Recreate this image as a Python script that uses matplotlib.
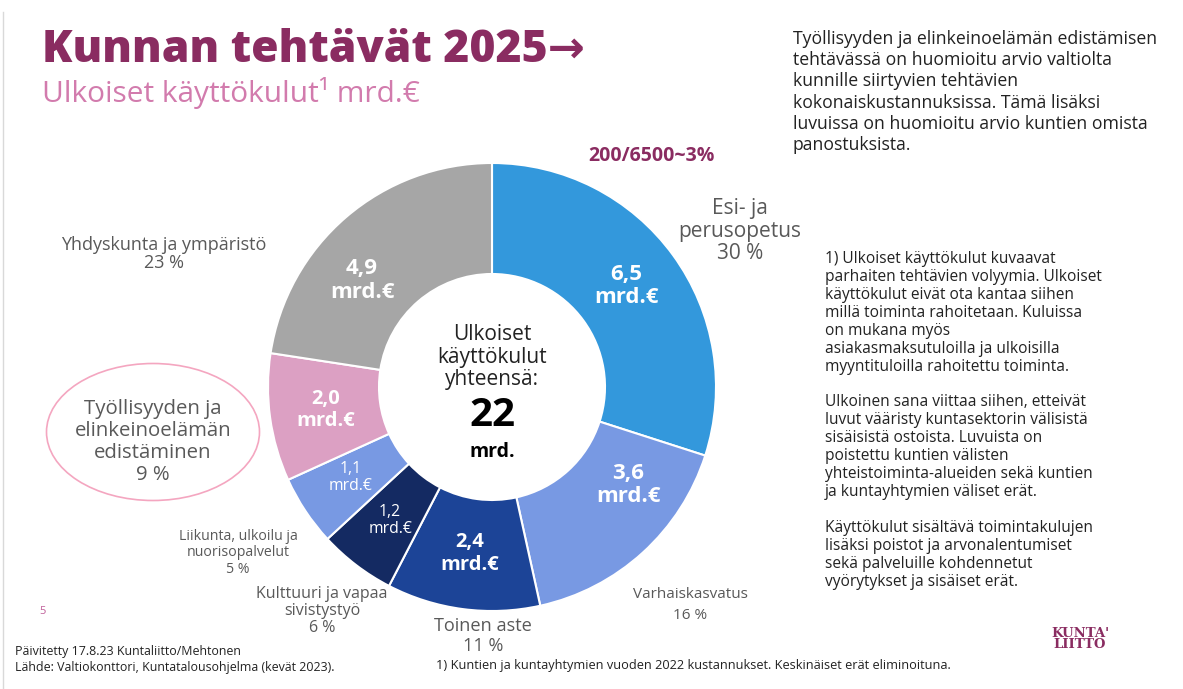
import numpy as np
import matplotlib
matplotlib.use("Agg")
from matplotlib import pyplot as plt
from matplotlib.patches import Ellipse

# data
tasks = ["Esi- ja\nperusopetus", "Varhaiskasvatus", "Toinen aste",
         "Kulttuuri ja vapaa\nsivistystyö", "Liikunta, ulkoilu ja\nnuorisopalvelut",
         "Työllisyyden ja\nelinkeinoelämän\nedistäminen", "Yhdyskunta ja ympäristö"]
values = [6.5, 3.6, 2.4, 1.2, 1.1, 2.0, 4.9]
shares = [30, 16, 11, 6, 5, 9, 23]
value_labels = ["6,5", "3,6", "2,4", "1,2", "1,1", "2,0", "4,9"]
total_label = "22"

colors = ["#3398dc", "#7899e3", "#1c4497", "#142a62", "#7899e3", "#dca0c3", "#a6a6a6"]

W, H = 1183, 689
plum = "#8a2c61"
grey_txt = "#595959"
plt.rcParams['font.family'] = ['Open Sans', 'DejaVu Sans']

fig = plt.figure(figsize=(W / 100, H / 100), dpi=100)
ax = fig.add_axes([0, 0, 1, 1])

def py(y):
    # pixel row from top -> data y
    return H - y

cx, cy, R = 492, py(387), 224
wedges, _ = ax.pie(values, colors=colors, startangle=90, counterclock=False,
                   center=(cx, cy), radius=R,
                   wedgeprops=dict(width=R - 113, edgecolor="white", linewidth=1.5))
ax.set_xlim(0, W)
ax.set_ylim(0, H)
ax.set_aspect("equal")
ax.axis("off")

# slice value labels, at mid angle of each wedge (small tweaks for 3,6 and 4,9)
angle_tweak = [1, 12, 0, 0, -1, 0, 10]
label_size = [16, 16, 14.5, 11.3, 11.3, 14.5, 16]
for w, lab, tw, fs in zip(wedges, value_labels, angle_tweak, label_size):
    ang = np.deg2rad((w.theta1 + w.theta2) / 2 + tw)
    r = 168
    x = cx + r * np.cos(ang)
    y = cy + r * np.sin(ang)
    if fs > 12:
        ax.text(x, y, lab + "\nmrd.€", ha="center", va="center", color="white",
                fontsize=fs, fontweight="bold", linespacing=1.15)
    else:
        ax.text(x, y, lab + "\nmrd.€", ha="center", va="center", color="white",
                fontsize=fs, linespacing=1.05)

# centre text
ax.text(cx, py(357), "Ulkoiset\nkäyttökulut\nyhteensä:", ha="center", va="center",
        fontsize=15, color="#222222", linespacing=1.1)
ax.text(cx, py(415), total_label, ha="center", va="center", fontsize=29,
        fontweight="bold", color="black")
ax.text(cx, py(452), "mrd.", ha="center", va="center", fontsize=14,
        fontweight="bold", color="black")

# outer labels
outer_pos = [(740, 231), (690, 605), (483, 636), (322, 611), (238, 553), (153, 442), (164, 254)]
outer_size = [15, 11, 13.1, 11.5, 10.2, 14.7, 13]
outer_ls = [1.1, 1.5, 1.15, 1.08, 1.13, 1.14, 1.0]
for name, s, (x, y), fs, ls in zip(tasks, shares, outer_pos, outer_size, outer_ls):
    ax.text(x, py(y), f"{name}\n{s} %", ha="center", va="center", fontsize=fs,
            color=grey_txt, linespacing=ls)

ax.add_patch(Ellipse((153, py(432)), 213, 137, fill=False, edgecolor="#f4a6c0", linewidth=1.2))

# header
ax.text(42, py(50), "Kunnan tehtävät 2025→", ha="left", va="center", fontsize=32,
        fontweight="heavy", color=plum, family=['Open Sans', 'DejaVu Sans'])
ax.text(42, py(93), "Ulkoiset käyttökulut¹ mrd.€", ha="left", va="center",
        fontsize=21.5, color="#d27bad")
ax.text(651, py(156), "200/6500~3%", ha="center", va="center", fontsize=14,
        fontweight="bold", color=plum)

ax.text(793, py(30), "Työllisyyden ja elinkeinoelämän edistämisen\n"
        "tehtävässä on huomioitu arvio valtiolta\n"
        "kunnille siirtyvien tehtävien\n"
        "kokonaiskustannuksissa. Tämä lisäksi\n"
        "luvuissa on huomioitu arvio kuntien omista\n"
        "panostuksista.", ha="left", va="top", fontsize=12.7, color="#222222",
        linespacing=1.23)

ax.text(825, py(251), "1) Ulkoiset käyttökulut kuvaavat\n"
        "parhaiten tehtävien volyymia. Ulkoiset\n"
        "käyttökulut eivät ota kantaa siihen\n"
        "millä toiminta rahoitetaan. Kuluissa\n"
        "on mukana myös\n"
        "asiakasmaksutuloilla ja ulkoisilla\n"
        "myyntituloilla rahoitettu toiminta.\n\n"
        "Ulkoinen sana viittaa siihen, etteivät\n"
        "luvut vääristy kuntasektorin välisistä\n"
        "sisäisistä ostoista. Luvuista on\n"
        "poistettu kuntien välisten\n"
        "yhteistoiminta-alueiden sekä kuntien\n"
        "ja kuntayhtymien väliset erät.\n\n"
        "Käyttökulut sisältävä toimintakulujen\n"
        "lisäksi poistot ja arvonalentumiset\n"
        "sekä palveluille kohdennetut\n"
        "vyörytykset ja sisäiset erät.", ha="left", va="top", fontsize=11.2,
        color="#222222", linespacing=1.16)

# footer
ax.text(43, py(612), "5", ha="center", va="center", fontsize=8, color="#c0609a")
ax.text(15, py(651), "Päivitetty 17.8.23 Kuntaliitto/Mehtonen", ha="left", va="center",
        fontsize=8.9, color="#222222")
ax.text(15, py(667), "Lähde: Valtiokonttori, Kuntatalousohjelma (kevät 2023).", ha="left",
        va="center", fontsize=8.9, color="#222222")
ax.text(436, py(665), "1) Kuntien ja kuntayhtymien vuoden 2022 kustannukset. Keskinäiset erät eliminoituna.",
        ha="left", va="center", fontsize=9.2, color="#222222")
ax.text(1080, py(639), "KUNTA'\nLIITTO", ha="center", va="center", fontsize=9.5,
        fontweight="bold", color=plum, family="DejaVu Serif", linespacing=0.75)

# slide border line on the left
ax.plot([3, 3], [py(12), py(689)], color="#d9d9d9", linewidth=1)

fig.savefig("out.png", dpi=100)
